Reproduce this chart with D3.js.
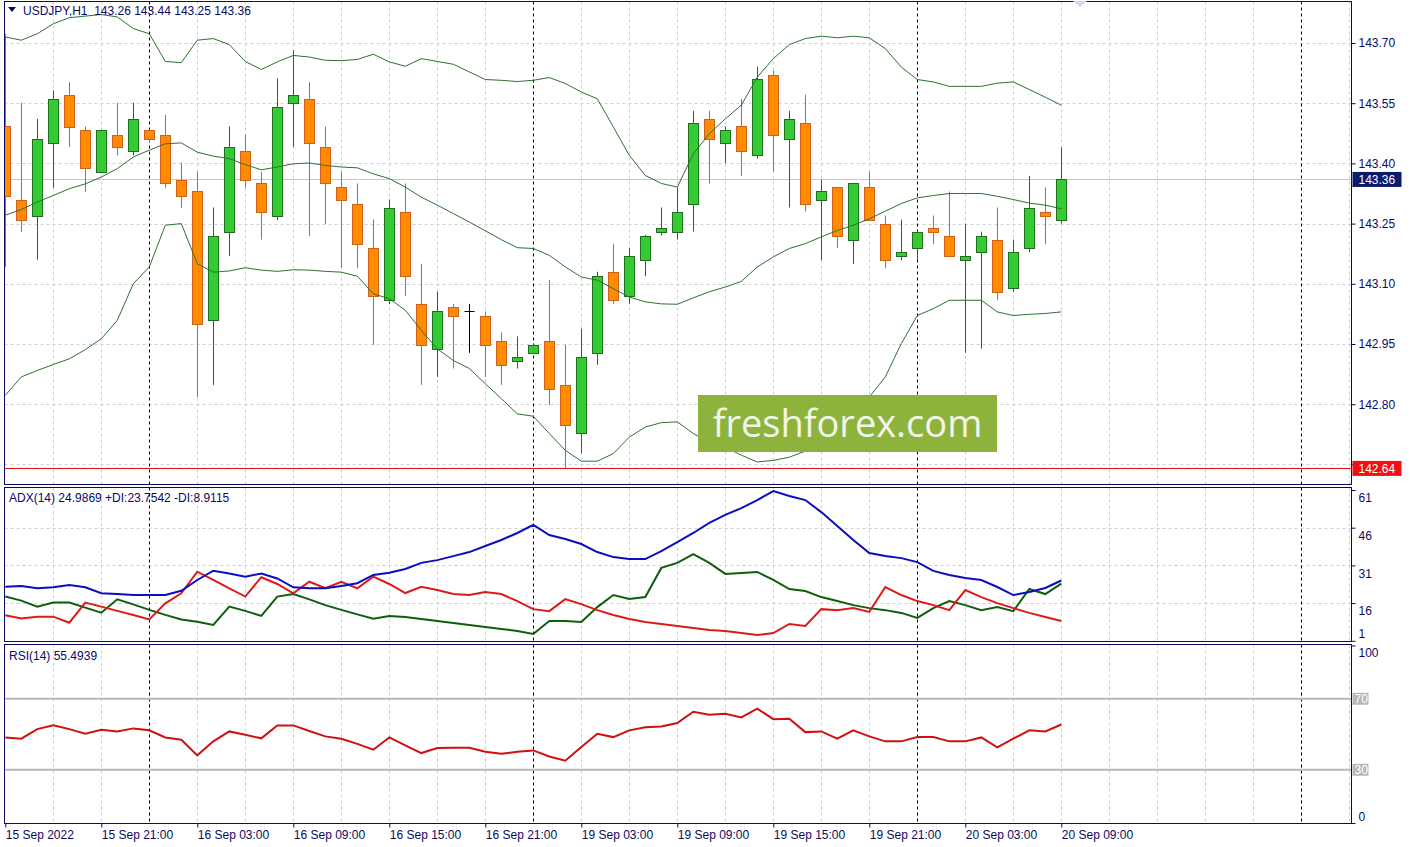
<!DOCTYPE html>
<html><head><meta charset="utf-8">
<script src="https://cdn.jsdelivr.net/npm/d3@7"></script>
<style>
html,body{margin:0;padding:0;background:#fff;}
svg{display:block;}
text{font-family:"Liberation Sans",Arial,sans-serif;font-size:12px;fill:#0a0a64;white-space:pre;}
</style></head><body>
<svg id="c" width="1410" height="847"></svg>
<script>
// ---------- DATA ----------
const timeIdx = [0,6,12,18,24,30,36,42,48,54,60,66];
const timeLabels = ["15 Sep 2022","15 Sep 21:00","16 Sep 03:00","16 Sep 09:00","16 Sep 15:00","16 Sep 21:00",
  "19 Sep 03:00","19 Sep 09:00","19 Sep 15:00","19 Sep 21:00","20 Sep 03:00","20 Sep 09:00"];
const daySeparators = [9,33,57,81];

const open = [143.492,143.310,143.269,143.451,143.571,143.482,143.379,143.472,143.431,143.482,
143.472,143.359,143.330,143.011,143.230,143.432,143.350,143.269,143.551,143.561,
143.442,143.340,143.300,143.190,143.060,143.280,143.050,142.938,143.041,143.031,
143.021,142.958,142.908,142.928,142.958,142.849,142.728,142.928,143.130,143.070,
143.160,143.230,143.230,143.300,143.511,143.452,143.492,143.422,143.621,143.462,
143.501,143.310,143.340,143.209,143.340,143.250,143.169,143.189,143.240,143.220,
143.159,143.179,143.210,143.090,143.189,143.280,143.26];
const high = [143.723,143.551,143.511,143.582,143.602,143.492,143.484,143.551,143.551,143.484,
143.521,143.402,143.379,143.290,143.492,143.472,143.379,143.612,143.682,143.602,
143.492,143.379,143.350,143.260,143.310,143.350,143.150,143.080,143.050,143.050,
143.031,142.979,142.969,142.951,143.110,142.948,142.988,143.130,143.200,143.190,
143.222,143.290,143.340,143.531,143.531,143.492,143.561,143.641,143.631,143.531,
143.571,143.359,143.341,143.351,143.379,143.270,143.260,143.232,143.270,143.330,
143.250,143.230,143.290,143.210,143.369,143.340,143.44];
const low = [143.142,143.229,143.160,143.339,143.441,143.329,143.377,143.420,143.420,143.451,
143.339,143.289,142.818,142.848,143.169,143.339,143.210,143.259,143.441,143.219,
143.249,143.139,143.139,142.948,143.050,143.070,142.848,142.868,142.889,142.928,
142.868,142.848,142.889,142.926,142.798,142.640,142.678,142.898,143.050,143.050,
143.119,143.220,143.210,143.230,143.350,143.401,143.369,143.412,143.379,143.290,
143.280,143.159,143.189,143.149,143.258,143.139,143.159,143.159,143.199,143.168,
142.928,142.938,143.060,143.080,143.179,143.199,143.25];
const close = [143.319,143.260,143.462,143.561,143.491,143.389,143.482,143.441,143.511,143.462,
143.350,143.319,143.001,143.220,143.442,143.359,143.280,143.541,143.571,143.451,
143.350,143.309,143.199,143.070,143.290,143.119,142.948,143.031,143.021,143.031,
142.948,142.898,142.918,142.948,142.839,142.748,142.918,143.120,143.060,143.170,
143.220,143.240,143.280,143.501,143.462,143.482,143.432,143.611,143.472,143.511,
143.300,143.330,143.219,143.350,143.259,143.159,143.179,143.230,143.230,143.169,
143.169,143.220,143.080,143.179,143.290,143.270,143.36];

const bbUpper = [143.715,143.707,143.723,143.748,143.763,143.767,143.771,143.765,143.736,143.723,143.654,143.651,143.707,143.711,143.696,143.654,143.634,
143.653,143.669,143.665,143.657,143.656,143.659,143.672,143.653,143.642,143.661,143.654,143.647,143.628,143.609,143.607,143.604,143.607,
143.614,143.599,143.578,143.561,143.491,143.420,143.370,143.350,143.341,143.424,143.474,143.511,143.545,143.615,143.661,143.696,
143.711,143.717,143.713,143.717,143.713,143.686,143.640,143.609,143.603,143.592,143.592,143.592,143.600,143.603,143.584,143.565,143.545];
const bbMiddle = [143.271,143.285,143.304,143.320,143.337,143.349,143.366,143.387,143.416,143.433,143.449,143.451,143.428,143.418,143.412,143.397,143.384,
143.391,143.399,143.401,143.395,143.391,143.389,143.374,143.362,143.341,143.316,143.296,143.275,143.254,143.232,143.210,143.190,143.188,
143.171,143.142,143.117,143.109,143.088,143.067,143.055,143.050,143.049,143.065,143.080,143.092,143.106,143.142,143.167,143.188,
143.200,143.217,143.233,143.246,143.262,143.281,143.300,143.314,143.320,143.325,143.325,143.325,143.318,143.310,143.301,143.296,143.287];
const bbLower = [142.822,142.868,142.884,142.899,142.913,142.936,142.963,143.009,143.100,143.142,143.246,143.250,143.150,143.129,143.132,143.140,143.134,
143.131,143.135,143.134,143.131,143.129,143.119,143.075,143.063,143.034,142.984,142.938,142.909,142.889,142.851,142.814,142.776,142.770,
142.727,142.685,142.658,142.658,142.677,142.718,142.743,142.754,142.756,142.727,142.706,142.693,142.673,142.656,142.660,142.668,
142.683,142.702,142.727,142.768,142.818,142.868,142.951,143.021,143.038,143.059,143.059,143.059,143.030,143.021,143.024,143.026,143.030];

const adx = [22.5,22.8,21.9,22.3,23.2,22.3,19.9,19.6,19.2,19.2,19.2,20.9,25.2,28.9,27.8,26.5,27.8,25.8,22.3,21.9,21.9,22.8,23.9,27.2,28.1,
29.6,32.0,33.1,34.7,36.3,38.7,41.1,43.9,47.1,43.1,41.5,39.5,36.3,34.3,33.5,33.5,36.7,40.3,43.9,47.9,51.1,53.8,57.0,60.6,58.6,57.0,
52.2,46.7,41.1,35.9,34.7,33.9,32.3,28.8,27.2,26.0,25.2,22.4,19.2,20.4,22.0,24.99];
const plusDI = [18.6,17.0,14.6,16.2,16.2,14.2,12.2,17.5,15.5,13.3,11.3,9.5,8.6,7.3,14.6,12.9,10.9,18.6,19.6,17.5,15.2,13.3,11.5,9.8,10.9,
10.5,9.7,8.9,8.1,7.3,6.5,5.7,4.9,3.7,8.9,8.9,8.5,14.4,19.2,17.6,18.4,30.0,32.0,35.5,32.0,27.6,28.0,28.4,25.2,21.6,20.8,
18.4,16.8,15.2,14.0,13.2,12.1,10.1,14.0,16.8,15.2,13.2,14.4,12.8,21.6,19.6,23.75];
const minusDI = [11.2,9.9,10.6,10.6,8.2,16.2,14.6,12.9,11.3,9.5,15.9,19.9,28.5,25.2,21.9,18.6,26.3,23.6,19.9,24.5,21.9,24.5,21.9,26.5,23.6,
20.0,22.5,21.2,19.6,19.2,20.4,19.6,16.8,13.6,12.8,17.6,15.6,13.2,11.3,9.7,8.5,7.7,6.9,6.1,5.3,4.9,4.1,3.3,4.1,7.7,6.9,
13.6,13.2,14.0,12.5,22.4,19.2,16.8,15.2,13.2,21.2,18.4,16.0,14.0,12.1,10.5,8.91];
const rsi = [48.2,47.5,52.9,55.0,52.9,50.3,52.5,51.6,53.3,52.2,48.2,46.9,38.1,46.0,51.6,49.7,47.7,55.0,55.0,51.8,48.8,47.5,44.6,41.3,48.2,
43.7,39.4,42.2,42.4,42.4,40.1,39.0,40.1,40.9,37.5,35.1,42.8,50.3,48.4,52.2,54.0,54.4,56.3,62.7,
61.0,61.5,59.5,64.4,58.5,58.7,51.2,51.6,47.5,52.2,48.8,46.0,46.0,48.4,48.4,46.0,46.0,48.2,42.6,47.5,52.2,51.6,55.49];

const priceTicks = [143.70,143.55,143.40,143.25,143.10,142.95,142.80,142.65];
const priceTickLabels = ["143.70","143.55","143.40","143.25","143.10","142.95","142.80",""];
const adxTicks = [61,46,31,16,1];
const rsiLevels = [70,30];
const rsiTicks = [100,0];
const bidPrice = 143.36;
const lowLine = 142.64;
const titleText = "USDJPY,H1  143.26 143.44 143.25 143.36";
const adxText = "ADX(14) 24.9869 +DI:23.7542 -DI:8.9115";
const rsiText = "RSI(14) 55.4939";

// ---------- LAYOUT ----------
const svg = d3.select("#c");
const L = 4.5, R = 1351.5;
const P = {top:1.5, bot:484.5};
const A = {top:487.5, bot:641.5};
const S = {top:644.5, bot:823.5};
const navy = "#0a0a64";

const x = d3.scaleLinear().domain([0,84]).range([5.3, 1349.3]);
const yP = d3.scaleLinear().domain([142.80,143.70]).range([404.2,43]);
const yA = d3.scaleLinear().domain([1,61]).range([640.8,490]);
const yR = d3.scaleLinear().domain([0,100]).range([823,645.5]);
const cx = i => Math.round(x(i)) + 0.5;
const N = close.length;

svg.append("rect").attr("width",1410).attr("height",847).attr("fill","#fff");

const defs = svg.append("defs");
[["cp",P],["ca",A],["cs",S]].forEach(([id,p])=>{
  defs.append("clipPath").attr("id",id).append("rect")
    .attr("x",L+0.5).attr("y",p.top+0.5).attr("width",R-L-1).attr("height",p.bot-p.top-1);
});

// vertical grid & separators
const gridIdx = d3.range(3,85,3).filter(i=>!daySeparators.includes(i));
[P,A,S].forEach(p=>{
  svg.append("g").selectAll("line").data(gridIdx).join("line")
    .attr("x1",cx).attr("x2",cx).attr("y1",p.top).attr("y2",p.bot)
    .attr("stroke","#cfcfcf").attr("stroke-dasharray","3,3");
});
// horizontal grid
svg.append("g").selectAll("line").data(priceTicks).join("line")
  .attr("x1",L).attr("x2",R).attr("y1",d=>Math.round(yP(d))+0.5).attr("y2",d=>Math.round(yP(d))+0.5)
  .attr("stroke","#cfcfcf").attr("stroke-dasharray","3,3");
svg.append("g").selectAll("line").data([46,31,16]).join("line")
  .attr("x1",L).attr("x2",R).attr("y1",d=>Math.round(yA(d))+0.5).attr("y2",d=>Math.round(yA(d))+0.5)
  .attr("stroke","#cfcfcf").attr("stroke-dasharray","3,3");

// bid line & low line
svg.append("line").attr("x1",L).attr("x2",R).attr("y1",Math.round(yP(bidPrice))+0.5).attr("y2",Math.round(yP(bidPrice))+0.5)
  .attr("stroke","#c8c8c8");
svg.append("line").attr("x1",L).attr("x2",R).attr("y1",Math.round(yP(lowLine))+0.5).attr("y2",Math.round(yP(lowLine))+0.5)
  .attr("stroke","#e01010");

// day separators
[P,A,S].forEach(p=>{
  svg.append("g").selectAll("line").data(daySeparators).join("line")
    .attr("x1",cx).attr("x2",cx).attr("y1",p.top).attr("y2",p.bot)
    .attr("stroke","#000").attr("stroke-dasharray","3,3");
});

// RSI levels
svg.append("g").selectAll("line").data(rsiLevels).join("line")
  .attr("x1",L).attr("x2",R).attr("y1",d=>yR(d)).attr("y2",d=>yR(d))
  .attr("stroke","#b8b8b8").attr("stroke-width",2);

// ---------- CANDLES ----------
const gc = svg.append("g").attr("clip-path","url(#cp)");
const idx = d3.range(N);
const col = i => close[i]>open[i] ? "bull" : (close[i]<open[i] ? "bear" : "doji");
const wickCol = {bull:"#1e6e1e", bear:"#d0601a", doji:"#000"};
const fillCol = {bull:"#33cc33", bear:"#ff8c00", doji:"#000"};
gc.selectAll("line.w").data(idx).join("line").attr("class","w")
  .attr("x1",cx).attr("x2",cx).attr("y1",i=>yP(high[i])).attr("y2",i=>yP(low[i]))
  .attr("stroke",i=>wickCol[col(i)]);
gc.selectAll("rect.b").data(idx.filter(i=>col(i)!=="doji")).join("rect").attr("class","b")
  .attr("x",i=>cx(i)-5).attr("width",10)
  .attr("y",i=>Math.round(yP(Math.max(open[i],close[i])))+0.5)
  .attr("height",i=>Math.max(1,Math.round(yP(Math.min(open[i],close[i])))-Math.round(yP(Math.max(open[i],close[i])))))
  .attr("fill",i=>fillCol[col(i)]).attr("stroke",i=>wickCol[col(i)]);
gc.selectAll("line.d").data(idx.filter(i=>col(i)==="doji")).join("line").attr("class","d")
  .attr("x1",i=>cx(i)-5).attr("x2",i=>cx(i)+5)
  .attr("y1",i=>Math.round(yP(open[i]))+0.5).attr("y2",i=>Math.round(yP(open[i]))+0.5)
  .attr("stroke","#000");

// Bollinger bands
const lineP = arr => d3.line().x((d,i)=>x(i)).y(d=>yP(d))(arr);
[bbUpper,bbMiddle,bbLower].forEach(arr=>{
  gc.append("path").attr("d",lineP(arr)).attr("fill","none").attr("stroke","#2f6f2f").attr("stroke-width",1);
});

// ---------- ADX ----------
const ga = svg.append("g").attr("clip-path","url(#ca)");
const lineA = arr => d3.line().x((d,i)=>x(i)).y(d=>yA(d))(arr);
[[plusDI,"#0d5e0d"],[minusDI,"#dd1a1a"],[adx,"#0c0cc0"]].forEach(([arr,c])=>{
  ga.append("path").attr("d",lineA(arr)).attr("fill","none").attr("stroke",c).attr("stroke-width",2);
});

// ---------- RSI ----------
const gs = svg.append("g").attr("clip-path","url(#cs)");
gs.append("path").attr("d",d3.line().x((d,i)=>x(i)).y(d=>yR(d))(rsi))
  .attr("fill","none").attr("stroke","#d01010").attr("stroke-width",2);

// ---------- BORDERS ----------
[P,A,S].forEach(p=>{
  svg.append("rect").attr("x",L).attr("y",p.top).attr("width",R-L).attr("height",p.bot-p.top)
    .attr("fill","none").attr("stroke",navy);
});

// ---------- AXES ----------
const axP = svg.append("g").attr("transform",`translate(${R},0)`)
  .call(d3.axisRight(yP).tickValues(priceTicks).tickFormat((d,i)=>priceTickLabels[i]).tickSize(4).tickPadding(3));
const axA = svg.append("g").attr("transform",`translate(${R},0)`)
  .call(d3.axisRight(yA).tickValues(adxTicks).tickFormat(d3.format("d")).tickSize(4).tickPadding(3));
axA.selectAll("text").attr("y",d=>Math.min(Math.max(yA(d)+8,496.5),634)-yA(d));
const axS = svg.append("g").attr("transform",`translate(${R},0)`)
  .call(d3.axisRight(yR).tickValues(rsiTicks).tickFormat(d3.format("d")).tickSize(4).tickPadding(3));
axS.selectAll("text").attr("y",d=>Math.min(Math.max(yR(d),653),817)-yR(d));
const axT = svg.append("g").attr("transform",`translate(0,${S.bot})`)
  .call(d3.axisBottom(x).tickValues(timeIdx).tickFormat((d,i)=>timeLabels[i]).tickSize(4).tickPadding(3));
axT.selectAll("text").attr("text-anchor","start").attr("x",0);
[axP,axA,axS,axT].forEach(a=>{
  a.select(".domain").remove();
  a.selectAll("line").attr("stroke",navy);
  a.selectAll("text").attr("fill",navy).style("font-family","'Liberation Sans',Arial,sans-serif").style("font-size","12px");
});

// RSI level labels
const lv = svg.append("g").selectAll("g").data(rsiLevels).join("g")
  .attr("transform",d=>`translate(${R+1},${yR(d)})`);
lv.append("rect").attr("x",0).attr("y",-6).attr("width",16).attr("height",12).attr("fill","#b8b8b8");
lv.append("text").attr("x",2).attr("y",0).attr("dy","0.35em").style("fill","#fff").text(d=>d);

// price tags
function tag(v,bg){
  const g = svg.append("g").attr("transform",`translate(${R+1},${yP(v)})`);
  g.append("rect").attr("x",0).attr("y",-7.5).attr("width",49).attr("height",15).attr("fill",bg);
  g.append("text").attr("x",6).attr("y",0).attr("dy","0.35em").style("fill","#fff").text(d3.format(".2f")(v));
}
tag(bidPrice,"#0c1a6c");
tag(lowLine,"#f01010");

// titles
svg.append("path").attr("d","M8,7 L16,7 L12,12 Z").attr("fill",navy);
svg.append("text").attr("x",23).attr("y",11).attr("dy","0.35em").text(titleText);
svg.append("text").attr("x",9).attr("y",498).attr("dy","0.35em").text(adxText);
svg.append("text").attr("x",9).attr("y",656).attr("dy","0.35em").text(rsiText);

// small object marker at top
svg.append("path").attr("d","M1073,1 L1087,1 L1080,7 Z").attr("fill","#dcd6f4");

// watermark
svg.append("rect").attr("x",698).attr("y",395).attr("width",299).attr("height",57).attr("fill","#8db33c");
svg.append("text").attr("x",847.5).attr("y",437).attr("text-anchor","middle")
  .style("font-family","'Open Sans','Noto Sans',sans-serif").style("font-size","38px")
  .style("fill","#f2f6e8").text("freshforex.com");
</script>
</body></html>
